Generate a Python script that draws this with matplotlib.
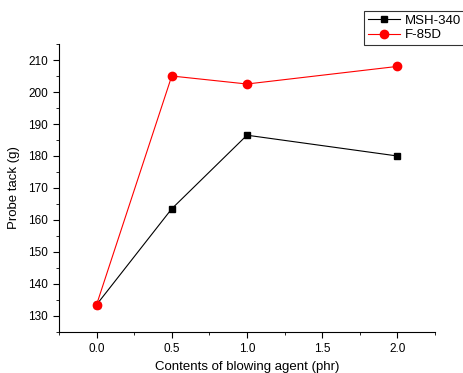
import matplotlib
matplotlib.use("Agg")
import matplotlib.pyplot as plt
from matplotlib.ticker import MultipleLocator

plt.rcParams['font.family'] = ['Liberation Sans', 'DejaVu Sans']

x = [0.0, 0.5, 1.0, 2.0]
msh340 = [133.5, 163.5, 186.5, 180.0]
f85d = [133.5, 205.0, 202.5, 208.0]

fig = plt.figure(figsize=(4.64, 3.73), dpi=100)
ax = fig.add_axes([0.127, 0.11, 0.8105, 0.772])

ax.plot(x, msh340, color='black', marker='s', markersize=5, linewidth=0.8, label='MSH-340')
ax.plot(x, f85d, color='red', marker='o', markersize=6, linewidth=0.8, label='F-85D')

ax.set_xlim(-0.25, 2.25)
ax.set_ylim(125, 215)
ax.xaxis.set_major_locator(MultipleLocator(0.5))
ax.xaxis.set_minor_locator(MultipleLocator(0.25))
ax.yaxis.set_major_locator(MultipleLocator(10))
ax.yaxis.set_minor_locator(MultipleLocator(5))
ax.set_xticks([0.0, 0.5, 1.0, 1.5, 2.0])
ax.set_xticklabels(['0.0', '0.5', '1.0', '1.5', '2.0'])
ax.set_yticks([130, 140, 150, 160, 170, 180, 190, 200, 210])

ax.spines['top'].set_visible(False)
ax.spines['right'].set_visible(False)
ax.tick_params(which='major', direction='out', length=4, labelsize=8.5, pad=4)
ax.tick_params(which='minor', direction='out', length=2)

ax.set_xlabel('Contents of blowing agent (phr)', fontsize=9.5, labelpad=4)
ax.set_ylabel('Probe tack (g)', fontsize=9.5, labelpad=6)

leg = ax.legend(loc='upper left', bbox_to_anchor=(0.81, 1.115), fontsize=9.5, frameon=True,
                fancybox=False, edgecolor='black', borderpad=0.3, handlelength=2.5,
                handletextpad=0.3, labelspacing=0.15, borderaxespad=0)
leg.get_frame().set_linewidth(0.8)

fig.savefig('out.png', dpi=100)
